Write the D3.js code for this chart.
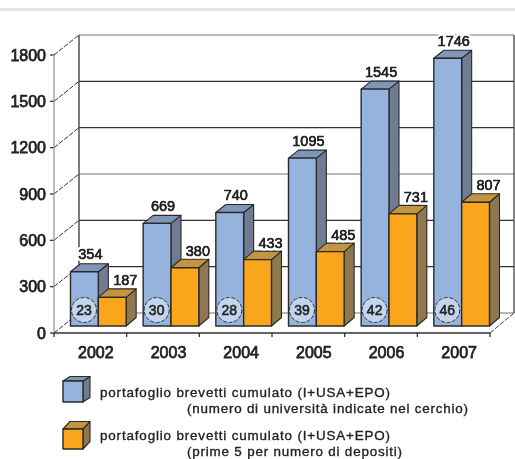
<!DOCTYPE html>
<html><head><meta charset="utf-8">
<script src="https://cdnjs.cloudflare.com/ajax/libs/d3/7.8.5/d3.min.js"></script>
<style>html,body{margin:0;padding:0;background:#fff;overflow:hidden}svg{display:block}text{font-family:"Liberation Sans",Arial,sans-serif;fill:#222}</style>
</head><body><script>
const years=["2002","2003","2004","2005","2006","2007"];
const portfolio=[354,669,740,1095,1545,1746];
const topFive=[187,380,433,485,731,807];
const universities=[23,30,28,39,42,46];
const yTicks=[0,300,600,900,1200,1500,1800];
const legendLines=[
 ["portafoglio brevetti cumulato (I+USA+EPO)","(numero di università indicate nel cerchio)"],
 ["portafoglio brevetti cumulato (I+USA+EPO)","(prime 5 per numero di depositi)"]];
const W=515,H=459;
const svg=d3.select("body").append("svg").attr("width",W).attr("height",H);
const f=svg.append("defs").append("filter").attr("id","soft").attr("x",0).attr("y",0).attr("width","100%").attr("height","100%");
f.append("feGaussianBlur").attr("stdDeviation",0.6);
const g=svg.append("g").attr("filter","url(#soft)");
g.append("rect").attr("width",W).attr("height",H).attr("fill","#fff");
g.append("rect").attr("x",0).attr("y",8).attr("width",W).attr("height",3).attr("fill","#e6e6e6");

const x=d3.scaleBand().domain(years).range([54,490]).paddingInner(0.234).paddingOuter(0.117).align(0.97);
const yFront=d3.scaleLinear().domain([0,1800]).range([333,55]);
const yBack=d3.scaleLinear().domain([0,1800]).range([313,35]);
const yBar=d3.scaleLinear().domain([0,1800]).range([326,50]);
const wallDX=25;

const gridDark={300:1,600:1,1200:1,1500:1};
yTicks.forEach(t=>{
 g.append("line").attr("x1",79).attr("x2",514).attr("y1",yBack(t)).attr("y2",yBack(t))
  .attr("stroke",gridDark[t]?"#333":"#a0a0a0").attr("stroke-width",1.3);
 g.append("line").attr("x1",54).attr("x2",54+wallDX).attr("y1",yFront(t)).attr("y2",yBack(t))
  .attr("stroke","#333").attr("stroke-width",1).attr("stroke-dasharray","5 1.5");
 g.append("line").attr("x1",50).attr("x2",54).attr("y1",yFront(t)).attr("y2",yFront(t)).attr("stroke","#222").attr("stroke-width",1.2);
 g.append("text").attr("x",46).attr("y",yFront(t)).attr("dy","0.36em").attr("text-anchor","end")
  .attr("font-size",16).attr("stroke","#222").attr("stroke-width",0.75).text(t);
});
g.append("line").attr("x1",79).attr("x2",79).attr("y1",yBack(1800)).attr("y2",yBack(0)).attr("stroke","#333").attr("stroke-width",1.3);
g.append("line").attr("x1",514).attr("x2",514).attr("y1",yBack(1800)).attr("y2",yBack(0)).attr("stroke","#444").attr("stroke-width",1.3);
g.append("line").attr("x1",54).attr("x2",54).attr("y1",yFront(1800)).attr("y2",yFront(0)).attr("stroke","#999").attr("stroke-width",1.3);
g.append("line").attr("x1",490).attr("x2",514).attr("y1",333).attr("y2",313).attr("stroke","#444").attr("stroke-width",1).attr("stroke-dasharray","5 1.5");
g.append("line").attr("x1",54).attr("x2",490).attr("y1",333).attr("y2",333).attr("stroke","#333").attr("stroke-width",1.5);
d3.range(7).forEach(i=>{
 const px=54+i*(436/6);
 g.append("line").attr("x1",px).attr("x2",px).attr("y1",333).attr("y2",337).attr("stroke","#222").attr("stroke-width",1.2);
});
years.forEach(y=>{
 g.append("text").attr("x",x(y)+x.bandwidth()/2-2.5).attr("y",358).attr("text-anchor","middle")
  .attr("font-size",16).attr("stroke","#222").attr("stroke-width",0.75).text(y);
});

const blue={front:"#95b3dd",side:"#6f7c92",top:"#8096b8"};
const orange={front:"#faa61a",side:"#8f7850",top:"#c4953f"};
const dark="#2a2a2a";
function cube(p,x0,x1,y0,y1,dx,dy,c){
 const s=p.append("g").attr("stroke",dark).attr("stroke-width",1.1).attr("stroke-linejoin","round");
 s.append("path").attr("d",d3.line()([[x1,y1],[x1+dx,y1-dy],[x1+dx,y0-dy],[x1,y0]])+"Z").attr("fill",c.side);
 s.append("path").attr("d",d3.line()([[x0,y0],[x0+dx,y0-dy],[x1+dx,y0-dy],[x1,y0]])+"Z").attr("fill",c.top);
 s.append("rect").attr("x",x0).attr("y",y0).attr("width",x1-x0).attr("height",y1-y0).attr("fill",c.front).attr("stroke-width",1.4);
}
const bw=x.bandwidth()/2;
function label(xp,yp,t){
 g.append("text").attr("x",xp).attr("y",yp).attr("text-anchor","middle").attr("font-size",14.5)
  .attr("stroke","#fff").attr("stroke-width",5).attr("paint-order","stroke").attr("stroke-linejoin","round").text(t);
 g.append("text").attr("x",xp).attr("y",yp).attr("text-anchor","middle").attr("font-size",14.5)
  .attr("stroke","#222").attr("stroke-width",0.5).text(t);
}
years.forEach((y,i)=>{
 const x0=x(y);
 cube(g,x0,x0+bw,yBar(portfolio[i]),yBar(0),10,8,blue);
 label(x0+bw/2+6,yBar(portfolio[i])-12.5,portfolio[i]);
});
years.forEach((y,i)=>{
 const x0=x(y)+bw;
 cube(g,x0,x0+bw,yBar(topFive[i]),yBar(0),10,8.5,orange);
 label(x0+bw/2+13,yBar(topFive[i])-12,topFive[i]);
});
years.forEach((y,i)=>{
 const cx=x(y)+13.5,cy=310;
 g.append("circle").attr("cx",cx).attr("cy",cy).attr("r",12.5).attr("fill","#c3d4ec").attr("stroke","#333").attr("stroke-width",1).attr("stroke-dasharray","4 1.5");
 g.append("text").attr("x",cx).attr("y",cy).attr("dy","0.36em").attr("text-anchor","middle").attr("font-size",14).attr("stroke","#222").attr("stroke-width",0.55).text(universities[i]);
});

[[blue,381,402,4.5],[orange,429,449,7.5]].forEach(([c,t,b,dy])=>{cube(g,63,83,t,b,7,dy,c);});
[[397,412.5,290,281],[440,455.5,290,215]].forEach((r,i)=>{
 g.append("text").attr("x",100).attr("y",r[0]).attr("font-size",13.4).attr("textLength",r[2]).attr("stroke","#222").attr("stroke-width",0.35).text(legendLines[i][0]);
 g.append("text").attr("x",187).attr("y",r[1]).attr("font-size",13.4).attr("textLength",r[3]).attr("stroke","#222").attr("stroke-width",0.35).text(legendLines[i][1]);
});
</script></body></html>
